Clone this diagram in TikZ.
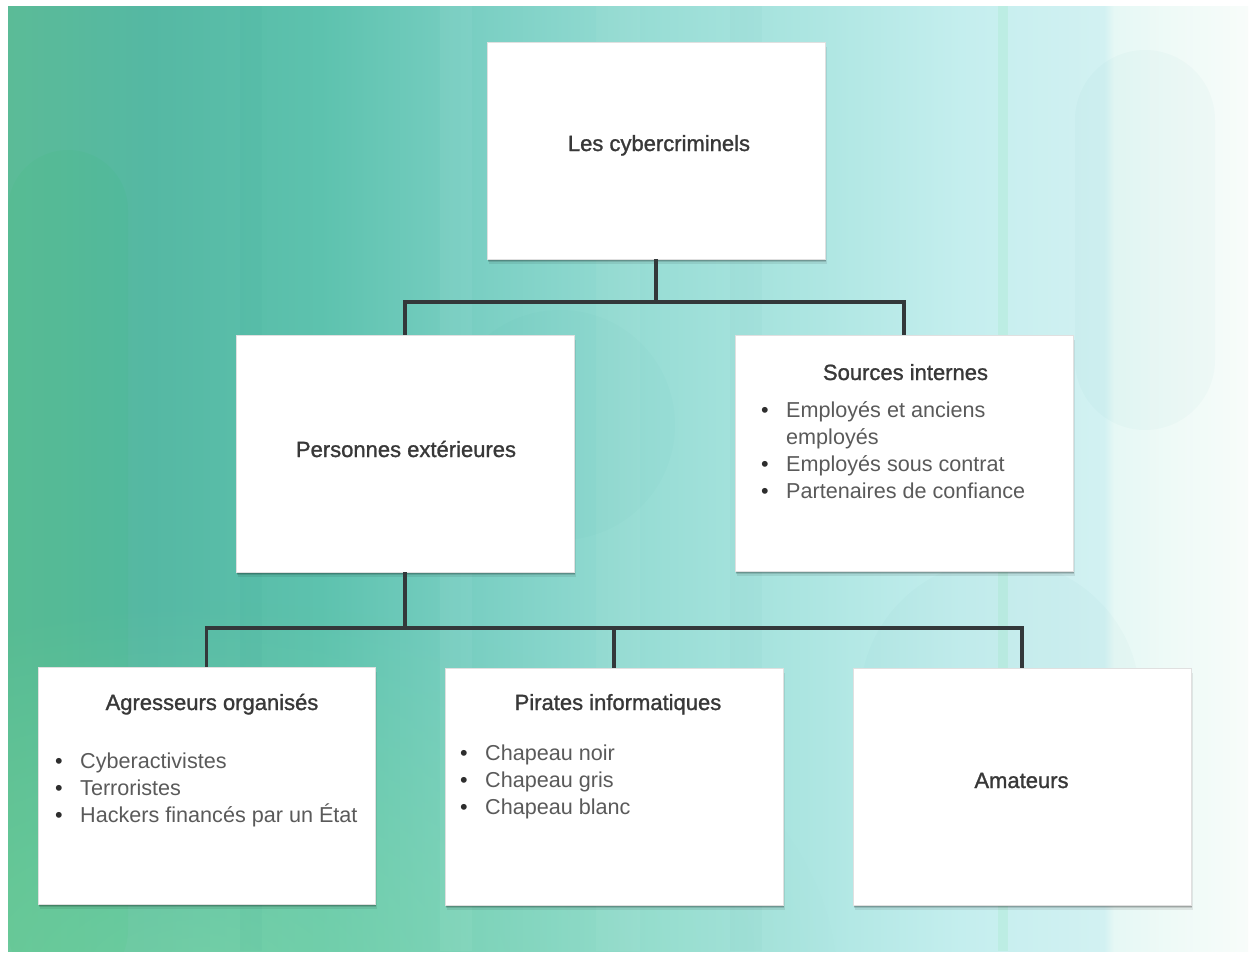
\documentclass[tikz,border=0pt]{standalone}
\usepackage{fontspec}
\setmainfont{Liberation Sans}
\newfontfamily\headfont[FakeBold=1.2]{Liberation Sans}
\usetikzlibrary{fadings}

% backdrop colours, left to right
\definecolor{bgA}{HTML}{5BBB97}
\definecolor{bgB}{HTML}{55B8A3}
\definecolor{bgC}{HTML}{5DC2AE}
\definecolor{bgD}{HTML}{7ACFC3}
\definecolor{bgE}{HTML}{98DDD5}
\definecolor{bgF}{HTML}{AEE6E2}
\definecolor{bgG}{HTML}{C4EEEE}
\definecolor{bgH}{HTML}{D2F1F2}
\definecolor{bgI}{HTML}{E6F8F5}
\definecolor{bgJ}{HTML}{EEFAF7}
\definecolor{bgK}{HTML}{F8FCFA}
\definecolor{glowgreen}{HTML}{8ADFA6}
\definecolor{linegray}{HTML}{33383A}
\definecolor{headc}{HTML}{383838}
\definecolor{itemc}{HTML}{5A5A5A}
\definecolor{dotc}{HTML}{2E2E2E}

\pgfdeclarehorizontalshading{backdrop}{100bp}{%
  color(0bp)=(bgA); color(25bp)=(bgA); color(30.7bp)=(bgB);
  color(37.6bp)=(bgC); color(44bp)=(bgD); color(50.9bp)=(bgE);
  color(57.7bp)=(bgF); color(63.4bp)=(bgG); color(69.2bp)=(bgH);
  color(69.6bp)=(bgI); color(72bp)=(bgJ); color(75bp)=(bgK);
  color(100bp)=(bgK)}

\tikzfading[name=glowfade, inner color=transparent!0, outer color=transparent!100]

\tikzset{
  softshadow/.style={
    preaction={fill=black, fill opacity=0.08, transform canvas={shift={(2pt,-4.5pt)}}},
    preaction={fill=black, fill opacity=0.12, transform canvas={shift={(1.2pt,-3pt)}}},
    preaction={fill=black, fill opacity=0.18, transform canvas={shift={(0.5pt,-1.6pt)}}}},
  card/.style={softshadow, draw=black!12, line width=0.5pt, fill=white,
    inner sep=0pt, minimum width=338pt, minimum height=237pt},
  conn/.style={draw=linegray, line width=3.2pt, line join=miter},
  head/.style={anchor=base, inner sep=0pt, text=headc,
    font=\headfont\fontsize{22}{27}\selectfont},
  items/.style={anchor=base west, inner sep=0pt, text=itemc,
    font=\fontsize{21.6}{27}\selectfont},
}
\newcommand{\itm}{\makebox[25pt][l]{\textcolor{dotc}{\textbullet}}}

\begin{document}
\begin{tikzpicture}[x=1pt, y=-1pt]
\useasboundingbox (0,0) rectangle (1250,953);
\fill[white] (0,0) rectangle (1250,953);

% backdrop with soft shapes and faint vertical bands
\shade[shading=backdrop] (8,6) rectangle (1248,951);
\begin{scope}
  \clip (8,6) rectangle (1248,951);
  \fill[glowgreen, fill opacity=0.55, path fading=glowfade] (200,980) ellipse (640 and 380);
  \fill[green!60!teal, fill opacity=0.04, rounded corners=60pt] (8,150) rectangle (128,990);
  \fill[teal, fill opacity=0.025, rounded corners=70pt] (1075,50) rectangle (1215,430);
  \fill[teal, fill opacity=0.02] (560,425) circle (115);
  \fill[teal, fill opacity=0.02] (1000,700) circle (140);
  \fill[white, fill opacity=0.05] (440,6) rectangle (472,951);
  \fill[white, fill opacity=0.04] (596,6) rectangle (640,951);
  \fill[teal, fill opacity=0.025] (730,6) rectangle (762,951);
  \fill[teal, fill opacity=0.03] (240,6) rectangle (262,951);
  \fill[green!70!teal, fill opacity=0.06] (998,6) rectangle (1008,951);
  \fill[white, fill opacity=0.08] (1150,6) rectangle (1190,951);
\end{scope}

% junction points of the tree
\coordinate (j1) at (656,302);
\coordinate (j2) at (405,628);

% boxes
\node[card, minimum height=217pt] (root) at (656,150.5) {};
\node[card] (pext) at (405,453.5) {};
\node[card, minimum height=236pt] (sint) at (904,453) {};
\node[card, minimum width=337pt] (agr) at (206.5,785.5) {};
\node[card] (pir) at (614,786.5) {};
\node[card] (ama) at (1022,786.5) {};

% connectors
\draw[conn] (root.south) -- (j1);
\draw[conn] (j1) -| (pext.north);
\draw[conn] (j1) -| (sint.north);
\draw[conn] (pext.south) -- (j2);
\draw[conn] (j2) -| (agr.north);
\draw[conn] (j2) -| (pir.north);
\draw[conn] (j2) -| (ama.north);

% labels
\node[head] (rootT) at (659,151) {Les cybercriminels};
\node[head] (pextT) at (406,457) {Personnes extérieures};
\node[head] (sintT) at (905.5,380) {Sources internes};
\node[head] (agrT) at (212,710) {Agresseurs organisés};
\node[head] (pirT) at (618,710) {Pirates informatiques};
\node[head] (amaT) at (1021.5,788) {Amateurs};

\node[items] (sintL) at (761,417) {\begin{tabular}[t]{@{}l@{}}
  \itm Employés et anciens\\
  \hspace*{25pt}employés\\
  \itm Employés sous contrat\\
  \itm Partenaires de confiance
\end{tabular}};
\node[items] (agrL) at (55,768) {\begin{tabular}[t]{@{}l@{}}
  \itm Cyberactivistes\\
  \itm Terroristes\\
  \itm Hackers financés par un État
\end{tabular}};
\node[items] (pirL) at (460,760) {\begin{tabular}[t]{@{}l@{}}
  \itm Chapeau noir\\
  \itm Chapeau gris\\
  \itm Chapeau blanc
\end{tabular}};
\end{tikzpicture}
\end{document}
